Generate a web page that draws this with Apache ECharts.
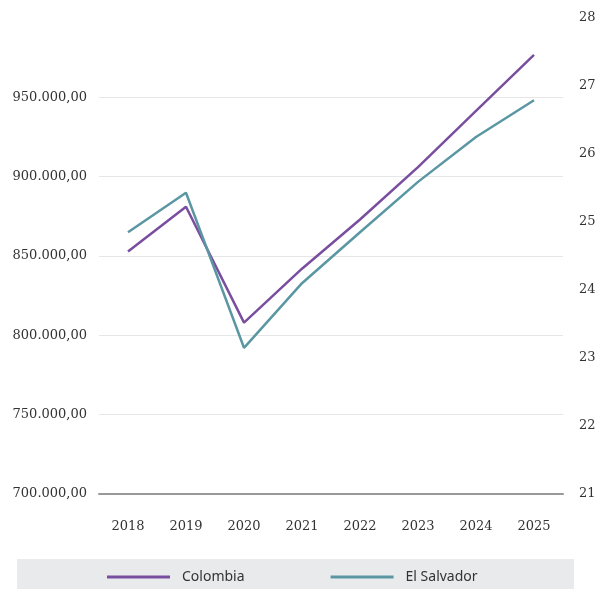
<!DOCTYPE html>
<html>
<head>
<meta charset="utf-8">
<script src="https://cdn.jsdelivr.net/npm/echarts@6/dist/echarts.min.js"></script>
<style>
  body { margin: 0; padding: 0; background: #fff; }
  #chart { width: 605px; height: 589px; }
</style>
</head>
<body>
<div id="chart"></div>
<script>
const years = ['2018', '2019', '2020', '2021', '2022', '2023', '2024', '2025'];
const colombia = [852800, 881000, 808000, 842000, 873000, 906000, 941500, 976700];
const elSalvador = [24.85, 25.43, 23.15, 24.10, 24.85, 25.59, 26.25, 26.79];

const tickFont = { fontFamily: 'DejaVu Serif', fontSize: 13, color: '#333' };

function esNumber(v) {
  const parts = Math.round(v).toString().replace(/\B(?=(\d{3})+(?!\d))/g, '.');
  return parts + ',00';
}

const chart = echarts.init(document.getElementById('chart'));
chart.setOption({
  animation: false,
  grid: { left: 99, right: 42, top: 18, bottom: 95 },
  graphic: [{
    type: 'rect', left: 17, top: 559, silent: true, z: -1,
    shape: { width: 557, height: 40 },
    style: { fill: '#e9eaec' }
  }],
  legend: {
    left: 107, top: 570, padding: 0,
    icon: 'rect', itemWidth: 63, itemHeight: 3, itemGap: 86,
    textStyle: { fontFamily: 'Noto Sans', fontSize: 14, color: '#333', padding: [0, 0, 0, 7] },
    data: ['Colombia', 'El Salvador']
  },
  xAxis: {
    type: 'category',
    data: years,
    axisTick: { show: false },
    axisLine: { lineStyle: { color: '#999', width: 2 } },
    axisLabel: Object.assign({ margin: 26 }, tickFont)
  },
  yAxis: [{
    type: 'value',
    min: 700000, max: 1000000, interval: 50000,
    axisLine: { show: false },
    axisTick: { show: false },
    axisLabel: Object.assign({ margin: 12, showMaxLabel: false, formatter: esNumber }, tickFont),
    splitLine: { lineStyle: { color: ['#e6e6e6', '#e6e6e6', '#e6e6e6', '#e6e6e6', '#e6e6e6', '#e6e6e6', 'rgba(0,0,0,0)'], width: 1 } }
  }, {
    type: 'value',
    position: 'right',
    min: 21, max: 28, interval: 1,
    axisLine: { show: false },
    axisTick: { show: false },
    axisLabel: Object.assign({ margin: 16 }, tickFont),
    splitLine: { show: false }
  }],
  series: [{
    name: 'Colombia',
    type: 'line',
    yAxisIndex: 0,
    data: colombia,
    symbol: 'none',
    lineStyle: { color: '#7a4e9f', width: 2.5 },
    itemStyle: { color: '#7a4e9f' }
  }, {
    name: 'El Salvador',
    type: 'line',
    yAxisIndex: 1,
    data: elSalvador,
    symbol: 'none',
    lineStyle: { color: '#5a97a3', width: 2.5 },
    itemStyle: { color: '#5a97a3' }
  }]
});
</script>
</body>
</html>
